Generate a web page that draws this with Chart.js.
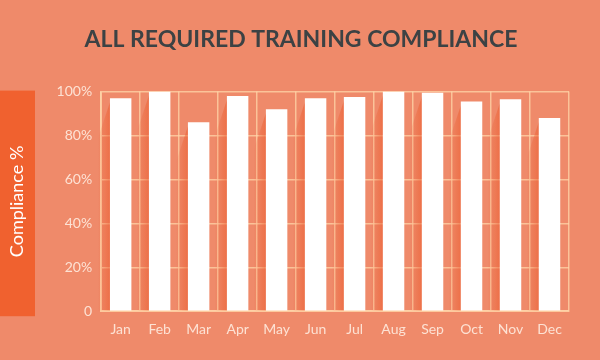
<!DOCTYPE html>
<html lang="en">
<head>
    <meta charset="UTF-8">
    <title>All Required Training Compliance</title>
    <style>
        html, body {
            margin: 0;
            padding: 0;
            background: #ef8a6a;
        }
        .chart-container {
            width: 600px;
            height: 360px;
        }
    </style>
    <script src="https://cdn.jsdelivr.net/npm/chart.js"></script>
</head>
<body>
    <div class="chart-container">
        <canvas id="barChart"></canvas>
    </div>

    <script>
        const months = ['Jan', 'Feb', 'Mar', 'Apr', 'May', 'Jun', 'Jul', 'Aug', 'Sep', 'Oct', 'Nov', 'Dec'];
        const compliance = [97, 100, 86, 98, 92, 97, 97.5, 100, 99.5, 95.5, 96.5, 88];
        const yTicks = [0, 20, 40, 60, 80, 100];
        const yTickLabels = ['0', '20%', '40%', '60%', '80%', '100%'];

        // orange box behind the y axis title + soft shadow on the left of each bar
        const decor = {
            id: 'decor',
            afterLayout(chart) {
                // centre the title on the whole canvas, not the padded area
                chart.titleBlock.left = 0;
                chart.titleBlock.right = chart.width + 2;
            },
            beforeDraw(chart) {
                const { ctx, chartArea } = chart;
                ctx.save();
                ctx.fillStyle = '#f0612f';
                ctx.fillRect(0, chartArea.top - 1, 35, chartArea.bottom - chartArea.top + 6);
                ctx.restore();
            },
            beforeDatasetsDraw(chart) {
                const { ctx } = chart;
                const meta = chart.getDatasetMeta(0);
                ctx.save();
                meta.data.forEach(bar => {
                    const left = bar.x - bar.width / 2;
                    const g = ctx.createLinearGradient(left - 12, 0, left, 0);
                    g.addColorStop(0, 'rgba(235,95,50,0)');
                    g.addColorStop(1, 'rgba(235,95,50,0.6)');
                    ctx.fillStyle = g;
                    ctx.beginPath();
                    ctx.moveTo(left - 12, bar.base);
                    ctx.lineTo(left - 12, bar.y + 40);
                    ctx.lineTo(left, bar.y + 4);
                    ctx.lineTo(left, bar.base);
                    ctx.closePath();
                    ctx.fill();
                });
                ctx.restore();
            }
        };

        const gridColor = 'rgba(255,214,170,0.75)';
        const tickColor = '#fde2d4';

        new Chart(document.getElementById('barChart').getContext('2d'), {
            type: 'bar',
            data: {
                labels: months,
                datasets: [{
                    label: 'Compliance %',
                    data: compliance,
                    backgroundColor: '#ffffff',
                    borderWidth: 0,
                    barPercentage: 0.55,
                    categoryPercentage: 1
                }]
            },
            options: {
                responsive: true,
                maintainAspectRatio: false,
                animation: false,
                layout: {
                    padding: { right: 31, bottom: 12 }
                },
                plugins: {
                    legend: { display: false },
                    tooltip: { enabled: false },
                    title: {
                        display: true,
                        text: 'ALL REQUIRED TRAINING COMPLIANCE',
                        color: '#3c4244',
                        font: { family: 'Lato', size: 23, weight: 'bold' },
                        padding: { top: 26, bottom: 38 }
                    }
                },
                scales: {
                    x: {
                        grid: {
                            color: gridColor,
                            lineWidth: 1.5,
                            offset: true,
                            drawTicks: false
                        },
                        border: { color: gridColor, width: 2 },
                        ticks: {
                            color: tickColor,
                            padding: 10,
                            font: { family: 'Lato', size: 14 }
                        }
                    },
                    y: {
                        min: 0,
                        max: 100,
                        afterBuildTicks(axis) {
                            axis.ticks = yTicks.map(v => ({ value: v }));
                        },
                        grid: {
                            color: gridColor,
                            lineWidth: 1.5,
                            drawTicks: false
                        },
                        border: { color: gridColor, width: 2 },
                        ticks: {
                            color: tickColor,
                            padding: 9,
                            font: { family: 'Lato', size: 14 },
                            callback: (v) => yTickLabels[yTicks.indexOf(v)]
                        },
                        title: {
                            display: true,
                            text: 'Compliance %',
                            color: '#ffffff',
                            font: { family: 'Lato', size: 18 },
                            padding: { top: 6, bottom: 20 }
                        }
                    }
                }
            },
            plugins: [decor]
        });
    </script>
</body>
</html>
